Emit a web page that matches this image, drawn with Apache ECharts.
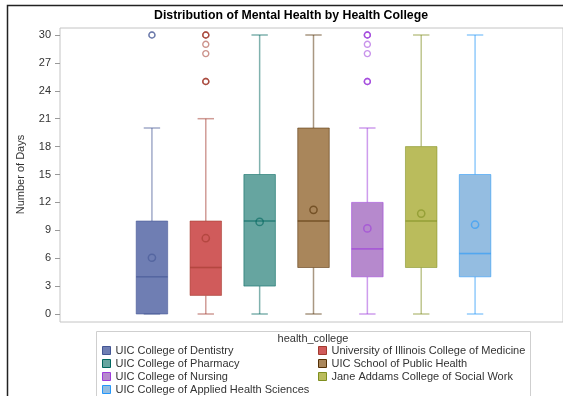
<!DOCTYPE html>
<html>
<head>
<meta charset="utf-8">
<script src="https://cdn.jsdelivr.net/npm/echarts@6/dist/echarts.min.js"></script>
<style>
  html, body { margin: 0; padding: 0; background: #fff; }
  #chart { width: 563px; height: 396px; }
</style>
</head>
<body>
<div id="chart"></div>
<script>
// Colleges, in plotting order
const colleges = [
  'UIC College of Dentistry',
  'University of Illinois College of Medicine',
  'UIC College of Pharmacy',
  'UIC School of Public Health',
  'UIC College of Nursing',
  'Jane Addams College of Social Work',
  'UIC College of Applied Health Sciences'
];

// Five-number summaries and means (days of poor mental health)
const minValues    = [0, 0, 0, 0, 0, 0, 0];
const q1Values     = [0, 2, 3, 5, 4, 5, 4];
const medianValues = [4, 5, 10, 10, 7, 10, 6.5];
const q3Values     = [10, 10, 15, 20, 12, 18, 15];
const maxValues    = [20, 21, 30, 30, 20, 30, 30];
const meanValues   = [6.05, 8.15, 9.9, 11.2, 9.2, 10.8, 9.6];

// Outlying responses (repeated values overlap)
const outlierValues = [
  [30, 30],
  [25, 25, 25, 28, 29, 30, 30, 30],
  [],
  [],
  [25, 25, 25, 28, 29, 30, 30, 30],
  [],
  []
];

// Y axis ticks
const yMin = 0, yMax = 30, yStep = 3;

// Group colours: fill and contrast line
const fillColors = ['#6F7EB3', '#D05B5B', '#66A5A0', '#A9865B', '#B689CD', '#BABC5C', '#94BDE1'];
const lineColors = ['#445694', '#A23A2E', '#01665E', '#543005', '#9D3CDB', '#7F8E1F', '#2597FA'];

const FONT = "'Liberation Sans', Arial, sans-serif";

function rgba(hex, a) {
  const n = parseInt(hex.slice(1), 16);
  return 'rgba(' + ((n >> 16) & 255) + ',' + ((n >> 8) & 255) + ',' + (n & 255) + ',' + a + ')';
}

function makeBoxRenderer(k) {
  return function (params, api) {
    const x = api.value(0);
    const band = api.size([1, 0])[0];
    const w = band * 0.585;
    const capW = w * 0.52;
    const pMin = api.coord([x, api.value(1)]);
    const pQ1 = api.coord([x, api.value(2)]);
    const pMed = api.coord([x, api.value(3)]);
    const pQ3 = api.coord([x, api.value(4)]);
    const pMax = api.coord([x, api.value(5)]);
    const pMean = api.coord([x, api.value(6)]);
    const cx = pMed[0];
    const whisker = { stroke: rgba(lineColors[k], 0.5), lineWidth: 1.5 };
    const edge = rgba(lineColors[k], 0.55);
    return {
      type: 'group',
      children: [
        { type: 'line', shape: { x1: cx, y1: pQ3[1], x2: cx, y2: pMax[1] }, style: whisker },
        { type: 'line', shape: { x1: cx, y1: pQ1[1], x2: cx, y2: pMin[1] }, style: whisker },
        {
          type: 'rect',
          shape: { x: cx - w / 2, y: pQ3[1], width: w, height: pQ1[1] - pQ3[1] },
          style: { fill: fillColors[k], stroke: edge, lineWidth: 1 }
        },
        { type: 'line', shape: { x1: cx - w / 2, y1: pMed[1], x2: cx + w / 2, y2: pMed[1] },
          style: { stroke: rgba(lineColors[k], 0.6), lineWidth: 1.6 } },
        { type: 'line', shape: { x1: cx - capW / 2, y1: pMax[1], x2: cx + capW / 2, y2: pMax[1] }, style: whisker },
        { type: 'line', shape: { x1: cx - capW / 2, y1: pMin[1], x2: cx + capW / 2, y2: pMin[1] }, style: whisker },
        { type: 'circle', shape: { cx: pMean[0], cy: pMean[1], r: 3.6 },
          style: { fill: 'none', stroke: rgba(lineColors[k], 0.6), lineWidth: 1.5 } }
      ]
    };
  };
}

const series = [];
colleges.forEach(function (name, k) {
  series.push({
    name: name,
    type: 'custom',
    xAxisIndex: 1,
    yAxisIndex: 1,
    itemStyle: { color: fillColors[k], borderColor: lineColors[k] },
    renderItem: makeBoxRenderer(k),
    encode: { x: 0, y: [1, 2, 3, 4, 5] },
    data: [[k, minValues[k], q1Values[k], medianValues[k], q3Values[k], maxValues[k], meanValues[k]]],
    silent: true
  });
});
colleges.forEach(function (name, k) {
  if (!outlierValues[k].length) return;
  series.push({
    name: name,
    type: 'scatter',
    xAxisIndex: 1,
    yAxisIndex: 1,
    symbol: 'circle',
    symbolSize: 6,
    itemStyle: { color: 'rgba(0,0,0,0)', borderColor: rgba(lineColors[k], 0.55), borderWidth: 1.4, opacity: 1 },
    data: outlierValues[k].map(function (v) { return [k, v]; }),
    silent: true,
    z: 3
  });
});

function legendItems(idx) {
  return idx.map(function (k) {
    return { name: colleges[k], itemStyle: { color: fillColors[k], borderColor: lineColors[k], borderWidth: 1 } };
  });
}

const legendCommon = {
  orient: 'vertical',
  top: 345,
  padding: 0,
  itemWidth: 8,
  itemHeight: 8,
  itemGap: 2,
  icon: 'rect',
  selectedMode: false,
  textStyle: { fontFamily: FONT, fontSize: 11, color: '#333', lineHeight: 11 }
};

const chart = echarts.init(document.getElementById('chart'), null, { renderer: 'canvas' });
chart.setOption({
  animation: false,
  backgroundColor: '#fff',
  title: [
    {
      text: 'Distribution of Mental Health by Health College',
      left: 291, top: 10, textAlign: 'center', padding: 0,
      textStyle: { fontFamily: FONT, fontSize: 12.3, fontWeight: 'bold', color: '#000' }
    },
    {
      text: 'health_college',
      left: 313, top: 333, textAlign: 'center', padding: 0,
      textStyle: { fontFamily: FONT, fontSize: 11, fontWeight: 'normal', color: '#333' }
    }
  ],
  graphic: [
    { type: 'rect', silent: true, shape: { x: 7.5, y: 5.5, width: 700, height: 500 },
      style: { fill: 'none', stroke: '#222', lineWidth: 1.5 } },
    { type: 'rect', silent: true, shape: { x: 96.5, y: 331.5, width: 434, height: 100 },
      style: { fill: 'none', stroke: '#cfcfcf', lineWidth: 1 } }
  ],
  grid: [
    { left: 60, top: 28, width: 506, height: 294, show: true, borderColor: '#c4c4c4', borderWidth: 1, backgroundColor: 'transparent' },
    { left: 125, right: 61, top: 35, bottom: 82 }
  ],
  xAxis: [
    { gridIndex: 0, type: 'value', show: false },
    { gridIndex: 1, type: 'category', data: colleges, show: false, boundaryGap: true }
  ],
  yAxis: [
    { gridIndex: 0, type: 'value', show: false },
    {
      gridIndex: 1, type: 'value', min: yMin, max: yMax, interval: yStep,
      offset: 65,
      name: 'Number of Days', nameLocation: 'middle', nameGap: 34,
      nameTextStyle: { fontFamily: FONT, fontSize: 11, color: '#333' },
      axisLine: { show: false },
      axisTick: { show: true, length: 5, inside: false, lineStyle: { color: '#999' } },
      axisLabel: { fontFamily: FONT, fontSize: 11, color: '#333', margin: 9 },
      splitLine: { show: false }
    }
  ],
  legend: [
    Object.assign({}, legendCommon, { left: 102, data: legendItems([0, 2, 4, 6]) }),
    Object.assign({}, legendCommon, { left: 318, data: legendItems([1, 3, 5]) })
  ],
  series: series
});
</script>
</body>
</html>
